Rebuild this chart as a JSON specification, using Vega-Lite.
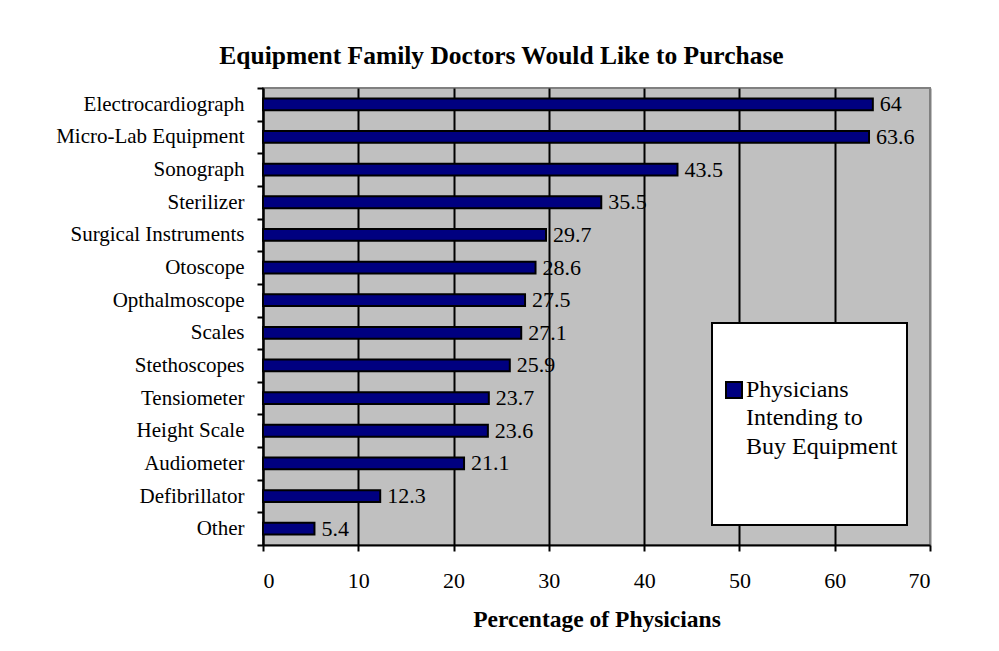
{
  "$schema": "https://vega.github.io/schema/vega-lite/v6.json",
  "width": 667,
  "height": 457,
  "autosize": {"type": "none"},
  "padding": {"left": 263, "top": 88, "right": 69, "bottom": 106},
  "background": "white",
  "title": {
    "text": "Equipment Family Doctors Would Like to Purchase",
    "font": "Liberation Serif",
    "fontSize": 25.5,
    "fontWeight": "bold",
    "color": "black",
    "anchor": "middle",
    "frame": "group",
    "dx": -95,
    "offset": 8
  },
  "data": {
    "values": [
      {"item": "Electrocardiograph", "value": 64, "series": "Physicians Intending to Buy Equipment"},
      {"item": "Micro-Lab Equipment", "value": 63.6, "series": "Physicians Intending to Buy Equipment"},
      {"item": "Sonograph", "value": 43.5, "series": "Physicians Intending to Buy Equipment"},
      {"item": "Sterilizer", "value": 35.5, "series": "Physicians Intending to Buy Equipment"},
      {"item": "Surgical Instruments", "value": 29.7, "series": "Physicians Intending to Buy Equipment"},
      {"item": "Otoscope", "value": 28.6, "series": "Physicians Intending to Buy Equipment"},
      {"item": "Opthalmoscope", "value": 27.5, "series": "Physicians Intending to Buy Equipment"},
      {"item": "Scales", "value": 27.1, "series": "Physicians Intending to Buy Equipment"},
      {"item": "Stethoscopes", "value": 25.9, "series": "Physicians Intending to Buy Equipment"},
      {"item": "Tensiometer", "value": 23.7, "series": "Physicians Intending to Buy Equipment"},
      {"item": "Height Scale", "value": 23.6, "series": "Physicians Intending to Buy Equipment"},
      {"item": "Audiometer", "value": 21.1, "series": "Physicians Intending to Buy Equipment"},
      {"item": "Defibrillator", "value": 12.3, "series": "Physicians Intending to Buy Equipment"},
      {"item": "Other", "value": 5.4, "series": "Physicians Intending to Buy Equipment"}
    ]
  },
  "encoding": {
    "y": {
      "field": "item",
      "type": "nominal",
      "sort": null,
      "scale": {"paddingInner": 0, "paddingOuter": 0},
      "axis": {
        "title": null,
        "tickBand": "extent",
        "domainColor": "black",
        "domainWidth": 2,
        "tickColor": "black",
        "tickWidth": 2,
        "tickSize": 6,
        "labelFont": "Liberation Serif",
        "labelFontSize": 21,
        "labelColor": "black",
        "labelPadding": 13,
        "labelLimit": 400,
        "grid": false
      }
    }
  },
  "layer": [
    {
      "mark": {"type": "bar", "height": {"band": 0.36}, "stroke": "black", "strokeWidth": 2},
      "encoding": {
        "x": {
          "field": "value",
          "type": "quantitative",
          "scale": {"domain": [0, 70], "nice": false},
          "axis": {
            "values": [0, 10, 20, 30, 40, 50, 60, 70],
            "title": "Percentage of Physicians",
            "titleFont": "Liberation Serif",
            "titleFontSize": 23.5,
            "titleFontWeight": "bold",
            "titleColor": "black",
            "titlePadding": 16,
            "labelFont": "Liberation Serif",
            "labelFontSize": 22,
            "labelColor": "black",
            "labelPadding": 19,
            "domainColor": "black",
            "domainWidth": 2,
            "tickColor": "black",
            "tickWidth": 2,
            "tickSize": 6,
            "grid": true,
            "gridColor": {"condition": {"test": "datum.value === 70", "value": "#808080"}, "value": "black"},
            "gridWidth": 2,
            "gridOpacity": 1
          }
        },
        "color": {
          "field": "series",
          "type": "nominal",
          "scale": {"range": ["#000080"]},
          "legend": {
            "orient": "none",
            "legendX": 449,
            "legendY": 235,
            "title": " ",
            "titleFontSize": 10,
            "titlePadding": 36,
            "fillColor": "white",
            "strokeColor": "black",
            "padding": 9,
            "symbolType": "square",
            "symbolSize": 256,
            "symbolStrokeColor": "black",
            "symbolStrokeWidth": 2,
            "symbolOffset": 1,
            "labelOffset": 0,
            "labelFont": "Liberation Serif",
            "labelFontSize": 24,
            "labelColor": "black",
            "labelLimit": 400,
            "labelBaseline": "middle",
            "labelExpr": "['Physicians', 'Intending to', 'Buy Equipment', '', '']",
            "encode": {"labels": {"update": {"lineHeight": {"value": 28.3}}}}
          }
        }
      }
    },
    {
      "mark": {"type": "text", "align": "left", "baseline": "middle", "dx": 7, "font": "Liberation Serif", "fontSize": 22, "color": "black"},
      "encoding": {
        "x": {"field": "value", "type": "quantitative"},
        "text": {"field": "value", "type": "quantitative", "format": "~g"}
      }
    }
  ],
  "config": {
    "view": {"fill": "#C0C0C0", "stroke": "#808080", "strokeWidth": 2},
    "legend": {"strokeWidth": 2}
  }
}
